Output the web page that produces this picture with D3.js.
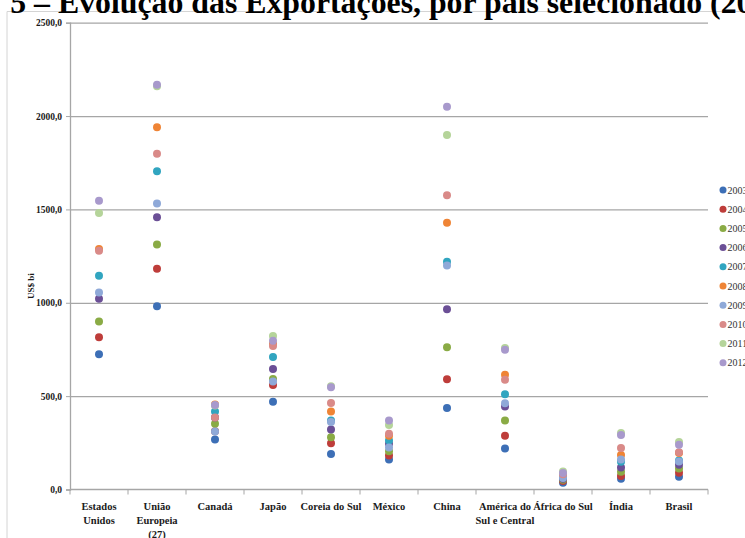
<!DOCTYPE html>
<html>
<head>
<meta charset="utf-8">
<script src="https://cdn.jsdelivr.net/npm/d3@7"></script>
<style>
  html, body { margin: 0; padding: 0; background: #fff; overflow: hidden; }
  svg { display: block; }
  text { font-family: "Liberation Serif", "Times New Roman", serif; }
</style>
</head>
<body>
<svg id="chart" width="745" height="538"></svg>
<script>
// Categories (countries / regions) and one value array per year, in US$ bi
const categories = [
  ["Estados", "Unidos"],
  ["União", "Europeia", "(27)"],
  ["Canadá"],
  ["Japão"],
  ["Coreia do Sul"],
  ["México"],
  ["China"],
  ["América do", "Sul e Central"],
  ["África do Sul"],
  ["Índia"],
  ["Brasil"]
];
const years = ["2003", "2004", "2005", "2006", "2007", "2008", "2009", "2010", "2011", "2012"];
const v2003 = [724, 982, 268, 470, 190, 160, 436, 220, 36, 57, 68];
const v2004 = [815, 1182, 312, 560, 248, 182, 590, 288, 46, 72, 90];
const v2005 = [900, 1312, 352, 592, 280, 205, 762, 370, 52, 95, 112];
const v2006 = [1022, 1458, 385, 645, 322, 245, 966, 445, 58, 118, 132];
const v2007 = [1145, 1704, 418, 710, 370, 262, 1220, 510, 68, 148, 155];
const v2008 = [1288, 1940, 455, 780, 418, 288, 1428, 615, 80, 185, 196];
const v2009 = [1055, 1532, 310, 578, 362, 225, 1200, 462, 62, 160, 150];
const v2010 = [1278, 1798, 385, 768, 463, 298, 1576, 588, 82, 222, 200];
const v2011 = [1481, 2160, 450, 822, 553, 345, 1898, 758, 96, 302, 254];
const v2012 = [1546, 2168, 452, 797, 547, 370, 2050, 748, 88, 292, 240];
const yTicks = [0, 500, 1000, 1500, 2000, 2500];
const colors = ["#3d6fb6", "#be3d3a", "#8aab45", "#6b4f96", "#31a5c0",
                "#ef8435", "#8fa9d8", "#d98a88", "#b5d49a", "#a899cc"];

const seriesValues = [v2003, v2004, v2005, v2006, v2007, v2008, v2009, v2010, v2011, v2012];
const series = years.map((y, i) => ({ year: y, color: colors[i], values: seriesValues[i] }));

const svg = d3.select("#chart");
const plot = { left: 70, right: 708, top: 22.7, bottom: 489.5 };

// Outer frame of the chart area
svg.append("path")
  .attr("d", `M7,560 V11.5 H760`)
  .attr("fill", "none")
  .attr("stroke", "#d4d4d4")
  .attr("stroke-width", 1);

// Title
const titleStart = "5 – ";
const titleRest = "Evolução das Exportações, por país selecionado (2003-2012)";
const title = svg.append("text")
  .attr("y", 13)
  .attr("font-weight", "bold")
  .attr("font-size", 100)
  .text("Evolução das Exportações, por país selecionado (20");
const w100 = title.node().getComputedTextLength();
const titleSize = 100 * 695 / w100;
title.attr("font-size", titleSize).text(titleStart);
const prefixW = title.node().getComputedTextLength();
title.attr("x", 50 - prefixW).text(titleStart + titleRest);

const x = d3.scaleBand()
  .domain(d3.range(categories.length))
  .range([plot.left, plot.right]);

const y = d3.scaleLinear()
  .domain([0, 2500])
  .range([plot.bottom, plot.top]);

// Horizontal gridlines
svg.append("g")
  .attr("transform", `translate(${plot.left},0)`)
  .call(d3.axisLeft(y).tickValues(yTicks.filter(d => d > 0)).tickSize(-(plot.right - plot.left)).tickFormat(""))
  .call(g => g.select(".domain").remove())
  .call(g => g.selectAll("line").attr("stroke", "#a6a6a6").attr("stroke-width", 1.3));

// Y axis
svg.append("g")
  .attr("transform", `translate(${plot.left},0)`)
  .call(d3.axisLeft(y).tickValues(yTicks).tickSize(4).tickPadding(4)
    .tickFormat(d => d3.format(".1f")(d).replace(".", ",")))
  .call(g => g.select(".domain").attr("stroke", "#a6a6a6").attr("stroke-width", 1.3))
  .call(g => g.selectAll("line").attr("stroke", "#a6a6a6"))
  .call(g => g.selectAll("text")
    .attr("font-family", "Liberation Serif, serif")
    .attr("font-weight", "bold")
    .attr("font-size", 9.5)
    .attr("fill", "#1a1a1a"));

// Y axis title
svg.append("text")
  .attr("transform", `translate(34,${(plot.top + plot.bottom) / 2 + 30}) rotate(-90)`)
  .attr("text-anchor", "middle")
  .attr("font-weight", "bold")
  .attr("font-size", 9)
  .attr("fill", "#1a1a1a")
  .text("US$ bi");

// X axis line with ticks at category boundaries
const xAxis = svg.append("g").attr("transform", `translate(0,${plot.bottom})`);
xAxis.append("line")
  .attr("x1", plot.left).attr("x2", plot.right)
  .attr("stroke", "#a6a6a6").attr("stroke-width", 1.3);
const boundaries = d3.range(categories.length + 1).map(i => plot.left + i * x.bandwidth());
xAxis.selectAll("line.tick")
  .data(boundaries)
  .join("line")
  .attr("class", "tick")
  .attr("x1", d => d).attr("x2", d => d)
  .attr("y1", 0).attr("y2", 5)
  .attr("stroke", "#a6a6a6");

// Category labels
const labels = xAxis.selectAll("text.cat")
  .data(categories)
  .join("text")
  .attr("class", "cat")
  .attr("x", (d, i) => x(i) + x.bandwidth() / 2)
  .attr("y", 20)
  .attr("text-anchor", "middle")
  .attr("font-weight", "bold")
  .attr("font-size", 10.5)
  .attr("fill", "#1a1a1a");
labels.selectAll("tspan")
  .data(d => d)
  .join("tspan")
  .attr("x", function () { return d3.select(this.parentNode).attr("x"); })
  .attr("dy", (d, i) => i === 0 ? 0 : 14)
  .text(d => d);

// Points, one layer per year (later years drawn on top)
svg.append("g")
  .selectAll("g")
  .data(series)
  .join("g")
  .attr("fill", d => d.color)
  .selectAll("circle")
  .data(d => d.values)
  .join("circle")
  .attr("cx", (d, i) => x(i) + x.bandwidth() / 2)
  .attr("cy", d => y(d))
  .attr("r", 4);

// Legend
const legend = svg.append("g")
  .selectAll("g")
  .data(series)
  .join("g")
  .attr("transform", (d, i) => `translate(723,${190 + i * 19.2})`);
legend.append("circle").attr("r", 3.5).attr("fill", d => d.color);
legend.append("text")
  .attr("x", 4.5)
  .attr("y", 3.5)
  .attr("font-size", 10)
  .attr("fill", "#333")
  .text(d => d.year);
</script>
</body>
</html>
